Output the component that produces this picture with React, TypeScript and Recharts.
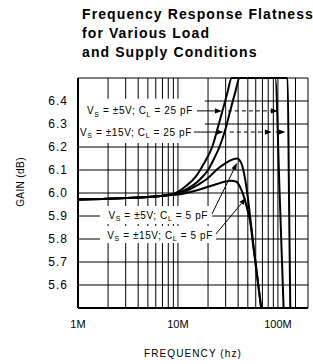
import React from "react";
import {
  LineChart,
  Line,
  XAxis,
  YAxis,
  CartesianGrid,
  ReferenceLine,
  ReferenceDot,
  ReferenceArea,
  Label,
} from "recharts";

// frequency axis in MHz
const X_TICKS = [1, 2, 3, 4, 5, 6, 7, 8, 9, 10, 20, 30, 40, 50, 60, 70, 80, 90, 100, 150, 200];
const X_LABELS: Record<number, string> = { 1: "1M", 10: "10M", 100: "100M" };
const Y_TICKS = [5.5, 5.6, 5.7, 5.8, 5.9, 6.0, 6.1, 6.2, 6.3, 6.4, 6.5];

// Vs = ±5V, CL = 25 pF
const F_5V_25PF = [1, 2, 3, 5, 7, 8, 10, 12, 15, 18, 22, 26, 31, 34.5, 60, 94, 104, 114];
const G_5V_25PF = [5.972, 5.975, 5.978, 5.983, 5.988, 5.992, 6.005, 6.03, 6.07, 6.125, 6.2, 6.31, 6.43, 6.5, 6.5, 6.5, 6.0, 5.5];

// Vs = ±15V, CL = 25 pF
const F_15V_25PF = [1, 2, 3, 5, 7, 8, 10, 12.6, 15.8, 18, 20, 23, 26, 30, 33, 37, 41.5, 80, 125, 129, 133];
const G_15V_25PF = [5.972, 5.975, 5.978, 5.983, 5.988, 5.991, 6.0, 6.02, 6.05, 6.075, 6.1, 6.15, 6.2, 6.28, 6.35, 6.43, 6.5, 6.5, 6.5, 6.0, 5.5];

// Vs = ±5V, CL = 5 pF
const F_5V_5PF = [1, 2, 3, 5, 7, 8, 10, 12.6, 15.8, 20, 25, 30, 35, 39, 43, 47, 50, 53, 57, 62, 68];
const G_5V_5PF = [5.972, 5.975, 5.978, 5.983, 5.988, 5.99, 5.997, 6.012, 6.035, 6.065, 6.105, 6.13, 6.145, 6.15, 6.13, 6.06, 5.98, 5.89, 5.77, 5.64, 5.5];

// Vs = ±15V, CL = 5 pF
const F_15V_5PF = [1, 2, 3, 5, 7, 8, 10, 15.8, 20, 25, 30, 34, 38, 42, 46, 50, 53, 57, 62, 68];
const G_15V_5PF = [5.972, 5.975, 5.978, 5.983, 5.988, 5.99, 5.993, 6.013, 6.027, 6.04, 6.05, 6.053, 6.05, 6.025, 5.98, 5.92, 5.87, 5.76, 5.64, 5.5];

const toRows = (f: number[], g: number[]) => f.map((x, i) => ({ f: x, g: g[i] }));

const series = [
  toRows(F_5V_25PF, G_5V_25PF),
  toRows(F_15V_25PF, G_15V_25PF),
  toRows(F_5V_5PF, G_5V_5PF),
  toRows(F_15V_5PF, G_15V_5PF),
];

const FONT = "'Liberation Sans', Arial, Helvetica, sans-serif";

function arrow(dashed: boolean) {
  return (p: any) => {
    const { x1, y1, x2, y2 } = p;
    const a = Math.atan2(y2 - y1, x2 - x1);
    const len = 7;
    const w = 2.6;
    const bx = x2 - len * Math.cos(a);
    const by = y2 - len * Math.sin(a);
    const px = -Math.sin(a) * w;
    const py = Math.cos(a) * w;
    return (
      <g>
        <line
          x1={x1}
          y1={y1}
          x2={bx}
          y2={by}
          stroke="#000"
          strokeWidth={1}
          strokeDasharray={dashed ? "4 3" : undefined}
        />
        <polygon points={`${x2},${y2} ${bx + px},${by + py} ${bx - px},${by - py}`} fill="#000" />
      </g>
    );
  };
}

function note(v: string, c: string) {
  return (p: any) => (
    <text
      x={p.cx}
      y={p.cy + 3.5}
      textAnchor="end"
      fontSize={10}
      fontFamily={FONT}
      letterSpacing={0.6}
      fill="#000"
    >
      V
      <tspan fontSize={7} dy={2.5}>S</tspan>
      <tspan dy={-2.5}>{` = ±${v}; C`}</tspan>
      <tspan fontSize={7} dy={2.5}>L</tspan>
      <tspan dy={-2.5}>{` = ${c} pF`}</tspan>
    </text>
  );
}

export default function App() {
  return (
    <div
      style={{
        position: "absolute",
        left: 0,
        top: 0,
        width: 313,
        height: 364,
        background: "#fff",
      }}
    >
      <div
        style={{
          position: "absolute",
          left: 82,
          top: 5,
          fontFamily: FONT,
          fontWeight: "bold",
          fontSize: 14,
          lineHeight: "19px",
          letterSpacing: 1.1,
          whiteSpace: "nowrap",
          color: "#000",
        }}
      >
        Frequency Response Flatness
        <br />
        for Various Load
        <br />
        and Supply Conditions
      </div>
      <LineChart
        width={313}
        height={364}
        margin={{ top: 78, right: 5, bottom: 0, left: 0 }}
        style={{ position: "absolute", left: 0, top: 0 }}
      >
        <CartesianGrid stroke="#000" strokeWidth={1} />
        <XAxis
          dataKey="f"
          type="number"
          scale="log"
          domain={[1, 200]}
          ticks={X_TICKS}
          allowDataOverflow
          interval={0}
          height={56}
          tickLine={false}
          tickSize={10}
          tickMargin={2}
          axisLine={{ stroke: "#000", strokeWidth: 2 }}
          tickFormatter={(v: number) => X_LABELS[v] ?? ""}
          tick={{ fill: "#000", fontSize: 11, fontFamily: FONT }}
        >
          <Label
            value="FREQUENCY (hz)"
            position="insideBottom"
            offset={7}
            style={{ fill: "#000", fontSize: 10, fontFamily: FONT, letterSpacing: 1.1 }}
          />
        </XAxis>
        <YAxis
          type="number"
          domain={[5.5, 6.5]}
          ticks={Y_TICKS}
          interval={0}
          width={78}
          tickLine={false}
          tickSize={8}
          tickMargin={2}
          axisLine={{ stroke: "#000", strokeWidth: 2 }}
          tickFormatter={(v: number) => (v === 5.5 || v === 6.5 ? "" : v.toFixed(1))}
          tick={{ fill: "#000", fontSize: 12, fontFamily: FONT, letterSpacing: 1 }}
        >
          <Label
            content={(p: any) => {
              const vb = p.viewBox;
              const cx = vb.x + 20;
              const cy = vb.y + vb.height / 2 - 11;
              return (
                <text
                  x={cx}
                  y={cy}
                  transform={`rotate(-90 ${cx} ${cy})`}
                  textAnchor="middle"
                  dominantBaseline="central"
                  fontSize={10}
                  fontFamily={FONT}
                  letterSpacing={0.4}
                  fill="#000"
                >
                  GAIN (dB)
                </text>
              );
            }}
          />
        </YAxis>

        {/* white boxes behind the notes */}
        <ReferenceArea x1={1.02} x2={18.6} y1={6.217} y2={6.41} fill="#fff" fillOpacity={1} stroke="none" />
        <ReferenceArea x1={1.66} x2={21.9} y1={5.865} y2={5.943} fill="#fff" fillOpacity={1} stroke="none" />
        <ReferenceArea x1={1.66} x2={24} y1={5.783} y2={5.857} fill="#fff" fillOpacity={1} stroke="none" />

        {series.map((d, i) => (
          <Line
            key={i}
            data={d}
            dataKey="g"
            type="monotone"
            stroke="#000"
            strokeWidth={2}
            dot={false}
            isAnimationActive={false}
          />
        ))}

        <ReferenceLine segment={[{ x: 15.5, y: 6.357 }, { x: 27.5, y: 6.357 }]} shape={arrow(false)} />
        <ReferenceLine segment={[{ x: 31.6, y: 6.357 }, { x: 100, y: 6.357 }]} shape={arrow(true)} />
        <ReferenceLine segment={[{ x: 14.5, y: 6.265 }, { x: 28.5, y: 6.265 }]} shape={arrow(false)} />
        <ReferenceLine segment={[{ x: 33, y: 6.265 }, { x: 87, y: 6.265 }]} shape={arrow(true)} />
        <ReferenceLine segment={[{ x: 95, y: 6.265 }, { x: 119, y: 6.265 }]} shape={arrow(false)} />
        <ReferenceLine segment={[{ x: 21.9, y: 5.909 }, { x: 38.9, y: 6.13 }]} shape={arrow(false)} />
        <ReferenceLine segment={[{ x: 24, y: 5.822 }, { x: 47.9, y: 5.978 }]} shape={arrow(false)} />

        <ReferenceDot x={14.1} y={6.357} r={0} shape={note("5V", "25")} />
        <ReferenceDot x={13.8} y={6.265} r={0} shape={note("15V", "25")} />
        <ReferenceDot x={20} y={5.904} r={0} shape={note("5V", "5")} />
        <ReferenceDot x={22.4} y={5.817} r={0} shape={note("15V", "5")} />
      </LineChart>
    </div>
  );
}
